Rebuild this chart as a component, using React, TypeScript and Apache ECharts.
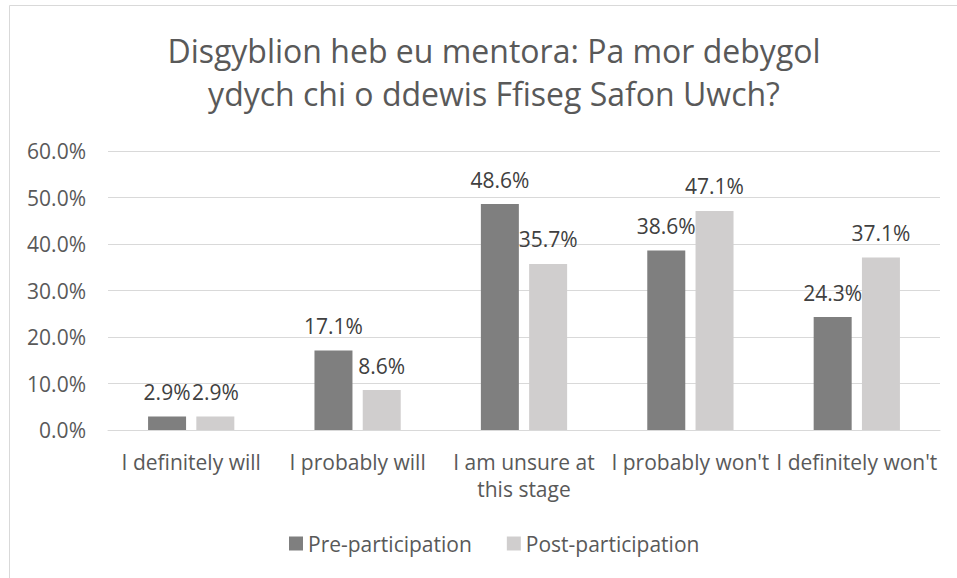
import React, { useEffect, useRef } from "react";
import * as echarts from "echarts";

const categories = ["I definitely will", "I probably will", "I am unsure at this stage", "I probably won't", "I definitely won't"];
const preValues = [2.9, 17.1, 48.6, 38.6, 24.3];
const postValues = [2.9, 8.6, 35.7, 47.1, 37.1];
const seriesNames = ["Pre-participation", "Post-participation"];
const titleText = "Disgyblion heb eu mentora: Pa mor debygol\nydych chi o ddewis Ffiseg Safon Uwch?";

const FONT = "'Open Sans', sans-serif";

export default function App() {
  const ref = useRef<HTMLDivElement>(null);
  useEffect(() => {
    const chart = echarts.init(ref.current!, null, { renderer: "svg" });
    const label = {
      show: true,
      position: "top" as const,
      distance: 14,
      color: "#404040",
      fontSize: 21,
      fontFamily: FONT,
      formatter: (p: any) => p.value.toFixed(1) + "%",
    };
    chart.setOption({
      animation: false,
      backgroundColor: "#ffffff",
      textStyle: { fontFamily: FONT },
      title: {
        text: titleText,
        left: 489,
        top: 24,
        textAlign: "center",
        textStyle: { fontSize: 32, fontWeight: "normal", color: "#595959", lineHeight: 43, fontFamily: FONT },
      },
      graphic: [
        {
          type: "rect",
          shape: { x: 9.5, y: 5.5, width: 1200, height: 1200 },
          style: { fill: "none", stroke: "#d9d9d9", lineWidth: 1 },
          silent: true,
        },
      ],
      legend: {
        top: 528,
        left: 284,
        itemWidth: 14,
        itemHeight: 14,
        itemGap: 35,
        icon: "rect",
        textStyle: { fontSize: 21, color: "#595959", fontFamily: FONT },
        data: seriesNames,
      },
      grid: { left: 108, right: 17, top: 151, bottom: 148, containLabel: false },
      xAxis: {
        type: "category",
        data: categories,
        axisLine: { lineStyle: { color: "#d9d9d9" } },
        axisTick: { show: false },
        axisLabel: {
          color: "#595959",
          fontSize: 21,
          fontFamily: FONT,
          margin: 18,
          lineHeight: 27,
          interval: 0,
          formatter: (v: string) => v.replace(" this stage", "\nthis stage"),
        },
      },
      yAxis: {
        type: "value",
        min: 0,
        max: 60,
        interval: 10,
        axisLine: { show: false },
        axisTick: { show: false },
        splitLine: { lineStyle: { color: "#d9d9d9" } },
        axisLabel: {
          color: "#595959",
          fontSize: 21,
          fontFamily: FONT,
          margin: 22,
          formatter: (v: number) => v.toFixed(1) + "%",
        },
      },
      series: [
        {
          name: seriesNames[0],
          type: "bar",
          data: preValues,
          barWidth: 38,
          barGap: "27%",
          itemStyle: { color: "#7f7f7f" },
          label,
        },
        {
          name: seriesNames[1],
          type: "bar",
          data: postValues,
          barWidth: 38,
          barGap: "27%",
          itemStyle: { color: "#d0cece" },
          label,
        },
      ],
    });
    return () => chart.dispose();
  }, []);
  return <div ref={ref} style={{ position: "fixed", left: 0, top: 0, width: 957, height: 578 }} />;
}
